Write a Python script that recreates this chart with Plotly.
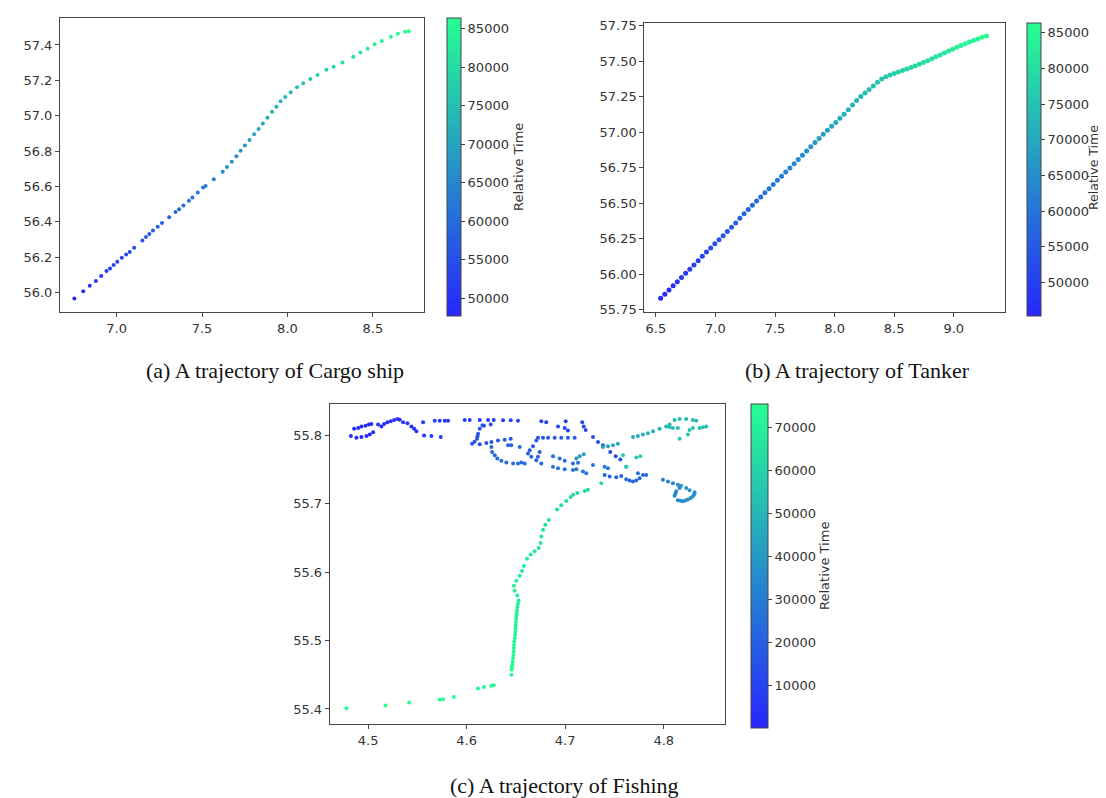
import plotly.graph_objects as go

# ---------------- (a) Cargo ship ----------------
cargo_lon = [6.753, 6.805, 6.843, 6.879, 6.910, 6.941, 6.962, 6.983, 7.004, 7.031, 7.056, 7.077,
             7.103, 7.151, 7.172, 7.192, 7.213, 7.241, 7.266, 7.308, 7.345, 7.366, 7.391, 7.423,
             7.444, 7.475, 7.506, 7.521, 7.569, 7.621, 7.646, 7.674, 7.701, 7.726, 7.751, 7.778,
             7.805, 7.831, 7.856, 7.883, 7.910, 7.935, 7.960, 7.987, 8.019, 8.056, 8.092, 8.134,
             8.176, 8.228, 8.270, 8.322, 8.385, 8.427, 8.469, 8.510, 8.552, 8.605, 8.646, 8.688, 8.709]
cargo_lat = [55.965, 56.006, 56.037, 56.065, 56.093, 56.121, 56.136, 56.155, 56.173, 56.196, 56.214, 56.229,
             56.253, 56.294, 56.313, 56.331, 56.350, 56.372, 56.393, 56.425, 56.455, 56.471, 56.492, 56.518,
             56.537, 56.565, 56.593, 56.602, 56.640, 56.683, 56.709, 56.739, 56.770, 56.802, 56.831, 56.863,
             56.895, 56.925, 56.956, 56.988, 57.022, 57.050, 57.081, 57.105, 57.133, 57.161, 57.184, 57.208,
             57.230, 57.260, 57.277, 57.301, 57.333, 57.357, 57.379, 57.404, 57.422, 57.447, 57.463, 57.475, 57.478]
cargo_time = [47700, 48750, 49510, 50220, 50850, 51470, 51900, 52340, 52740, 53290, 53790, 54220,
              54710, 55670, 56110, 56540, 56940, 57500, 57990, 58820, 59600, 60000, 60520, 61140,
              61570, 62190, 62840, 63150, 64230, 65440, 65990, 66610, 67230, 67820, 68370, 68990,
              69610, 70200, 70750, 71370, 71990, 72570, 73130, 73750, 74460, 75320, 75910, 76620,
              77330, 78200, 78910, 79780, 80830, 81540, 82250, 82960, 83670, 84560, 85270, 85960, 86330]

# ---------------- (b) Tanker ----------------
tanker_lon = [6.540, 6.575, 6.610, 6.645, 6.680, 6.715, 6.750, 6.785, 6.820, 6.855, 6.890, 6.925,
              6.960, 6.995, 7.030, 7.065, 7.100, 7.135, 7.170, 7.205, 7.240, 7.275, 7.310, 7.345,
              7.380, 7.415, 7.450, 7.485, 7.520, 7.555, 7.590, 7.625, 7.660, 7.695, 7.730, 7.765,
              7.800, 7.835, 7.870, 7.905, 7.940, 7.975, 8.010, 8.045, 8.080, 8.115, 8.150, 8.185,
              8.220, 8.255, 8.290, 8.325, 8.360, 8.395, 8.430, 8.465, 8.500, 8.535, 8.570, 8.605,
              8.640, 8.675, 8.710, 8.745, 8.780, 8.815, 8.850, 8.885, 8.920, 8.955, 8.990, 9.025,
              9.060, 9.095, 9.130, 9.165, 9.200, 9.235, 9.275]
tanker_lat = [55.829, 55.858, 55.888, 55.917, 55.946, 55.975, 56.005, 56.034, 56.064, 56.094, 56.125, 56.155,
              56.184, 56.213, 56.242, 56.270, 56.299, 56.329, 56.360, 56.392, 56.424, 56.455, 56.485, 56.514,
              56.543, 56.572, 56.601, 56.630, 56.660, 56.689, 56.718, 56.747, 56.777, 56.806, 56.836, 56.866,
              56.896, 56.926, 56.955, 56.984, 57.012, 57.040, 57.068, 57.097, 57.126, 57.157, 57.190, 57.222,
              57.250, 57.275, 57.300, 57.325, 57.350, 57.374, 57.390, 57.402, 57.413, 57.423, 57.433, 57.444,
              57.455, 57.466, 57.478, 57.490, 57.503, 57.516, 57.530, 57.543, 57.556, 57.570, 57.584, 57.597,
              57.609, 57.622, 57.634, 57.645, 57.656, 57.667, 57.677]
tanker_time = [45300, 45880, 46450, 47030, 47600, 48180, 48760, 49330, 49910, 50480, 51060, 51640,
               52210, 52790, 53360, 53940, 54520, 55090, 55670, 56240, 56820, 57400, 57970, 58550,
               59120, 59700, 60280, 60850, 61430, 62000, 62580, 63160, 63730, 64310, 64880, 65460,
               66040, 66610, 67190, 67760, 68340, 68920, 69490, 70070, 70640, 71220, 71800, 72370,
               72900, 73430, 73970, 74500, 75030, 75560, 76090, 76520, 76950, 77380, 77810, 78230,
               78660, 79090, 79520, 79950, 80380, 80810, 81240, 81670, 82100, 82520, 82950, 83380,
               83810, 84240, 84670, 85100, 85530, 85960, 86400]

# ---------------- (c) Fishing ----------------
fish_lon = [4.4825, 4.4881, 4.4932, 4.4983, 4.5017, 4.5051, 4.4858, 4.4899, 4.4932, 4.4973, 4.5007, 4.5033,
            4.5101, 4.5135, 4.5162, 4.5196, 4.5230, 4.5264, 4.5297, 4.5321, 4.5355, 4.5399, 4.5439, 4.5467,
            4.5490, 4.5568, 4.5642, 4.5737, 4.5558,
            4.5676, 4.5727, 4.5778, 4.5811, 4.5980, 4.6031, 4.6133, 4.6217, 4.6275, 4.6369, 4.6447, 4.6521,
            4.6758, 4.6808, 4.7005, 4.6927, 4.6995, 4.7028, 4.7173, 4.7188, 4.7208,
            4.7282, 4.7333, 4.7383, 4.7457, 4.7512, 4.7559,
            4.6244, 4.6160, 4.6176, 4.6133, 4.6116, 4.6110, 4.6105, 4.6080, 4.6055, 4.6133, 4.6200, 4.6251,
            4.6318, 4.6386, 4.6447,
            4.6724, 4.6775, 4.6826, 4.6893, 4.6960, 4.7028, 4.7096,
            4.6707, 4.6741, 4.6673, 4.6640, 4.6623, 4.6724, 4.6656, 4.6707, 4.6758,
            4.6420, 4.6453, 4.6539, 4.6251, 4.6258, 4.6285, 4.6311, 4.6352, 4.6403, 4.6471, 4.6521, 4.6555,
            4.6589, 4.6876, 4.6944, 4.6995, 4.7079, 4.7130, 4.6876, 4.6927, 4.6995, 4.7079, 4.7113, 4.7180,
            4.7214, 4.7282, 4.7400, 4.7434, 4.7620,
            4.7400, 4.7451, 4.7518, 4.7569, 4.7620, 4.7654, 4.7688, 4.7721, 4.7755, 4.7789, 4.7738, 4.7822,
            4.7992, 4.8043, 4.8093, 4.8144, 4.8161, 4.8127, 4.8120, 4.8110, 4.8144, 4.8170, 4.8195, 4.8220,
            4.8245, 4.8275, 4.8296, 4.8310, 4.8313, 4.8262, 4.8228, 4.8177,
            4.7113, 4.7147, 4.7188, 4.7383, 4.7434, 4.7485, 4.7535,
            4.7688, 4.7738, 4.7789, 4.7840, 4.7891, 4.7958, 4.8025, 4.8060,
            4.8110, 4.8161, 4.8228, 4.8296, 4.8330, 4.8398, 4.8432, 4.8364, 4.8296, 4.8262, 4.8245, 4.8161,
            4.8144, 4.8093, 4.8060,
            4.7762, 4.7721, 4.7586, 4.7620,
            4.7366, 4.7231, 4.7198, 4.7123, 4.7080, 4.7056, 4.7011, 4.6960, 4.6917, 4.6833, 4.6798, 4.6775,
            4.6758, 4.6751, 4.6731, 4.6690, 4.6650, 4.6613, 4.6582, 4.6562, 4.6538, 4.6504, 4.6480, 4.6488,
            4.6514, 4.6528, 4.6520, 4.6514, 4.6510, 4.6508, 4.6506, 4.6504, 4.6500, 4.6498, 4.6496, 4.6494,
            4.6491, 4.6488, 4.6484, 4.6480, 4.6479, 4.6478, 4.6474, 4.6470, 4.6467, 4.6464, 4.6460, 4.6457,
            4.6454, 4.6275, 4.6250, 4.6176, 4.6116, 4.5870, 4.5760, 4.5727, 4.5416, 4.5175, 4.4780]
fish_lat = [55.7991, 55.7967, 55.7977, 55.7991, 55.8014, 55.8049, 55.8097, 55.8111, 55.8130, 55.8144, 55.8159, 55.8169,
            55.8159, 55.8130, 55.8169, 55.8193, 55.8208, 55.8227, 55.8241, 55.8231, 55.8193, 55.8179, 55.8130, 55.8097,
            55.8063, 55.8000, 55.7991, 55.7977, 55.8193,
            55.8217, 55.8217, 55.8217, 55.8217, 55.8227, 55.8227, 55.8227, 55.8227, 55.8227, 55.8222, 55.8222, 55.8217,
            55.8208, 55.8193, 55.8208, 55.8130, 55.8111, 55.8072, 55.8193, 55.8130, 55.8082,
            55.7977, 55.7905, 55.7856, 55.7760, 55.7697, 55.7649,
            55.8159, 55.8150, 55.8144, 55.8097, 55.8025, 55.7990, 55.7952, 55.7910, 55.7880, 55.7870, 55.7890, 55.7905,
            55.7928, 55.7938, 55.7952,
            55.7967, 55.7967, 55.7967, 55.7967, 55.7967, 55.7967, 55.7967,
            55.7928, 55.7760, 55.7841, 55.7784, 55.7736, 55.7688, 55.7688, 55.7639, 55.7592,
            55.7856, 55.7856, 55.7833, 55.7833, 55.7760, 55.7711, 55.7664, 55.7630, 55.7606, 55.7592, 55.7592, 55.7606,
            55.7592, 55.7697, 55.7664, 55.7630, 55.7592, 55.7602, 55.7544, 55.7520, 55.7505, 55.7495, 55.7505, 55.7472,
            55.7447, 55.7567, 55.7544, 55.7520, 55.7544,
            55.7423, 55.7400, 55.7390, 55.7408, 55.7361, 55.7342, 55.7328, 55.7342, 55.7375, 55.7423, 55.7448, 55.7423,
            55.7351, 55.7328, 55.7303, 55.7279, 55.7231, 55.7183, 55.7150, 55.7120, 55.7053, 55.7045, 55.7039, 55.7050,
            55.7062, 55.7085, 55.7111, 55.7140, 55.7169, 55.7198, 55.7231, 55.7264,
            55.7664, 55.7697, 55.7726, 55.7833, 55.7841, 55.7856, 55.7880,
            55.7977, 55.7991, 55.8014, 55.8034, 55.8063, 55.8097, 55.8130, 55.8159,
            55.8227, 55.8241, 55.8241, 55.8227, 55.8217, 55.8121, 55.8130, 55.8111, 55.8111, 55.8082, 55.8014, 55.7952,
            55.8111, 55.8111, 55.8121,
            55.7697, 55.7678, 55.7711, 55.7544,
            55.7303, 55.7206, 55.7188, 55.7159, 55.7134, 55.7101, 55.7043, 55.6981, 55.6918, 55.6765, 55.6693, 55.6620,
            55.6524, 55.6427, 55.6355, 55.6307, 55.6260, 55.6196, 55.6091, 55.6019, 55.5947, 55.5875, 55.5802, 55.5730,
            55.5658, 55.5586, 55.5540, 55.5490, 55.5440, 55.5394, 55.5360, 55.5322, 55.5270, 55.5225, 55.5180, 55.5130,
            55.5080, 55.5033, 55.4985, 55.4937, 55.4890, 55.4840, 55.4790, 55.4745, 55.4695, 55.4648, 55.4610, 55.4576,
            55.4500, 55.4345, 55.4340, 55.4320, 55.4300, 55.4176, 55.4140, 55.4138, 55.4095, 55.4050, 55.4010]
fish_time = [100, 350, 600, 850, 1100, 1350, 1600, 1800, 2000, 2200, 2400, 2600,
             2900, 3100, 3300, 3500, 3700, 3900, 4100, 4300, 4500, 4700, 4900, 5100,
             5300, 5600, 5900, 6200, 6600,
             6900, 7100, 7300, 7500, 7900, 8100, 8400, 8700, 8900, 9200, 9500, 9800,
             10300, 10500, 10900, 11200, 11400, 11600, 12000, 12200, 12400,
             12800, 13100, 13400, 13700, 14000, 14300,
             14600, 14700, 14800, 15000, 15200, 15300, 15400, 15500, 15600, 15800, 16000, 16200,
             16400, 16600, 16800,
             17300, 17500, 17700, 17900, 18100, 18300, 18500,
             19000, 19450, 19300, 19600, 19900, 20100, 20200, 20500, 20800,
             21200, 21400, 21600, 22200, 22400, 22600, 22800, 23000, 23200, 23400, 23600, 23800,
             24000, 24600, 24900, 25200, 25500, 25800, 26300, 26600, 26900, 27200, 27500, 27800,
             28100, 28500, 28800, 29100, 28900,
             21500, 21800, 22100, 22400, 22700, 23000, 23300, 23600, 23900, 24200, 24500, 24800,
             31000, 31600, 32200, 32800, 33400, 34000, 34300, 34600, 35200, 35500, 35800, 36100,
             36400, 36700, 37000, 37300, 37600, 38200, 38800, 39400,
             41000, 41800, 42600, 44000, 44600, 45200, 45800,
             46800, 47300, 47800, 48300, 48800, 49300, 49800, 50300,
             50800, 51300, 51800, 52300, 52800, 53300, 53800, 54300, 54800, 55300, 55800, 56300,
             54500, 54900, 55100,
             57500, 58000, 58500, 59000,
             61000, 61800, 62200, 62700, 63000, 63300, 63700, 64100, 64500, 65200, 65500, 65800,
             66100, 66400, 66700, 67000, 67300, 67600, 67900, 68200, 68500, 68800, 69100, 69400,
             69700, 70000, 70150, 70300, 70450, 70600, 70750, 70900, 71050, 71200, 71350, 71500,
             71650, 71800, 71950, 72100, 72250, 72400, 72550, 72700, 72850, 73000, 73100, 73200,
             73400, 73800, 73900, 74100, 74300, 74600, 74800, 74900, 75100, 75250, 75400]

W, H = 1106, 798
FRAME = '#444444'
TXT = '#333333'
TICKFONT = dict(family='DejaVu Sans', size=13, color=TXT)
SCALE = [[0.0, 'rgb(38,38,255)'], [1.0, 'rgb(38,255,146)']]


def px_x(v):
    return v / W


def px_y(v):
    return 1 - v / H


def axis(x0, x1, rng, tickvals, fmt, anchor):
    return dict(domain=[px_x(x0), px_x(x1)], range=rng, tickvals=tickvals, tickformat=fmt,
                showline=True, mirror=True, linecolor=FRAME, linewidth=1,
                ticks='outside', ticklen=4, tickwidth=1, tickcolor=FRAME,
                tickfont=TICKFONT, showgrid=False, zeroline=False, anchor=anchor)


def yaxis(y_top, y_bot, rng, tickvals, fmt, anchor):
    return dict(domain=[px_y(y_bot), px_y(y_top)], range=rng, tickvals=tickvals, tickformat=fmt,
                showline=True, mirror=True, linecolor=FRAME, linewidth=1,
                ticks='outside', ticklen=4, tickwidth=1, tickcolor=FRAME,
                tickfont=TICKFONT, showgrid=False, zeroline=False, anchor=anchor)


def cbar(x_left, thick, y_top, y_bot, tickvals):
    return dict(x=px_x(x_left), xanchor='left', y=px_y(y_top), yanchor='top',
                lenmode='pixels', len=y_bot - y_top, thicknessmode='pixels', thickness=thick,
                xpad=0, ypad=0, outlinewidth=1, outlinecolor=FRAME,
                ticks='outside', ticklen=4, tickwidth=1, tickcolor=FRAME,
                tickvals=tickvals, tickformat='d',
                tickfont=dict(family='DejaVu Sans', size=13, color=TXT))


def cbar_title(xc, yc, size=13):
    return dict(text='Relative Time', x=px_x(xc), y=px_y(yc), xref='paper', yref='paper',
                xanchor='center', yanchor='middle', textangle=-90, showarrow=False,
                font=dict(family='DejaVu Sans', size=size, color=TXT))


fig = go.Figure()
fig.add_trace(go.Scatter(x=cargo_lon, y=cargo_lat, mode='markers', xaxis='x', yaxis='y',
                         marker=dict(color=cargo_time, coloraxis='coloraxis', size=4, line=dict(width=0)),
                         showlegend=False))
fig.add_trace(go.Scatter(x=tanker_lon, y=tanker_lat, mode='markers', xaxis='x2', yaxis='y2',
                         marker=dict(color=tanker_time, coloraxis='coloraxis2', size=5, line=dict(width=0)),
                         showlegend=False))
fig.add_trace(go.Scatter(x=fish_lon, y=fish_lat, mode='markers', xaxis='x3', yaxis='y3',
                         marker=dict(color=fish_time, coloraxis='coloraxis3', size=4, line=dict(width=0)),
                         showlegend=False))

caption_font = dict(family='Liberation Serif', size=22, color='#111111')

fig.update_layout(
    width=W, height=H, margin=dict(l=0, r=0, t=0, b=0),
    paper_bgcolor='white', plot_bgcolor='white',
    xaxis=axis(52, 416, [6.669, 8.799], [7.0, 7.5, 8.0, 8.5], '.1f', 'y'),
    yaxis=yaxis(5, 303, [55.888, 57.553], [56.0, 56.2, 56.4, 56.6, 56.8, 57.0, 57.2, 57.4], '.1f', 'x'),
    xaxis2=axis(636.3, 997, [6.403, 9.43], [6.5, 7.0, 7.5, 8.0, 8.5, 9.0], '.1f', 'y2'),
    yaxis2=yaxis(10, 303, [55.731, 57.769], [55.75, 56.0, 56.25, 56.5, 56.75, 57.0, 57.25, 57.5, 57.75], '.2f', 'x2'),
    xaxis3=axis(321.7, 717.3, [4.461, 4.8625], [4.5, 4.6, 4.7, 4.8], '.1f', 'y3'),
    yaxis3=yaxis(396, 720, [55.378, 55.846], [55.4, 55.5, 55.6, 55.7, 55.8], '.1f', 'x3'),
    coloraxis=dict(colorscale=SCALE, cmin=47700, cmax=86400,
                   colorbar=cbar(439, 14.3, 5, 303, [50000, 55000, 60000, 65000, 70000, 75000, 80000, 85000])),
    coloraxis2=dict(colorscale=SCALE, cmin=45300, cmax=86400,
                    colorbar=cbar(1018.5, 14, 10, 303, [50000, 55000, 60000, 65000, 70000, 75000, 80000, 85000])),
    coloraxis3=dict(colorscale=SCALE, cmin=70, cmax=75400,
                    colorbar=cbar(742.7, 16.5, 396, 720, [10000, 20000, 30000, 40000, 50000, 60000, 70000])),
    annotations=[
        dict(text='(a) A trajectory of Cargo ship', x=px_x(267), y=px_y(362), xref='paper', yref='paper',
             xanchor='center', yanchor='middle', showarrow=False, font=caption_font),
        dict(text='(b) A trajectory of Tanker', x=px_x(849), y=px_y(362), xref='paper', yref='paper',
             xanchor='center', yanchor='middle', showarrow=False, font=caption_font),
        dict(text='(c) A trajectory of Fishing', x=px_x(556), y=px_y(782), xref='paper', yref='paper',
             xanchor='center', yanchor='middle', showarrow=False, font=caption_font),
        cbar_title(510, 156),
        cbar_title(1085, 157, 12.5),
        cbar_title(817, 560),
    ],
)

fig.write_html('out.html')
